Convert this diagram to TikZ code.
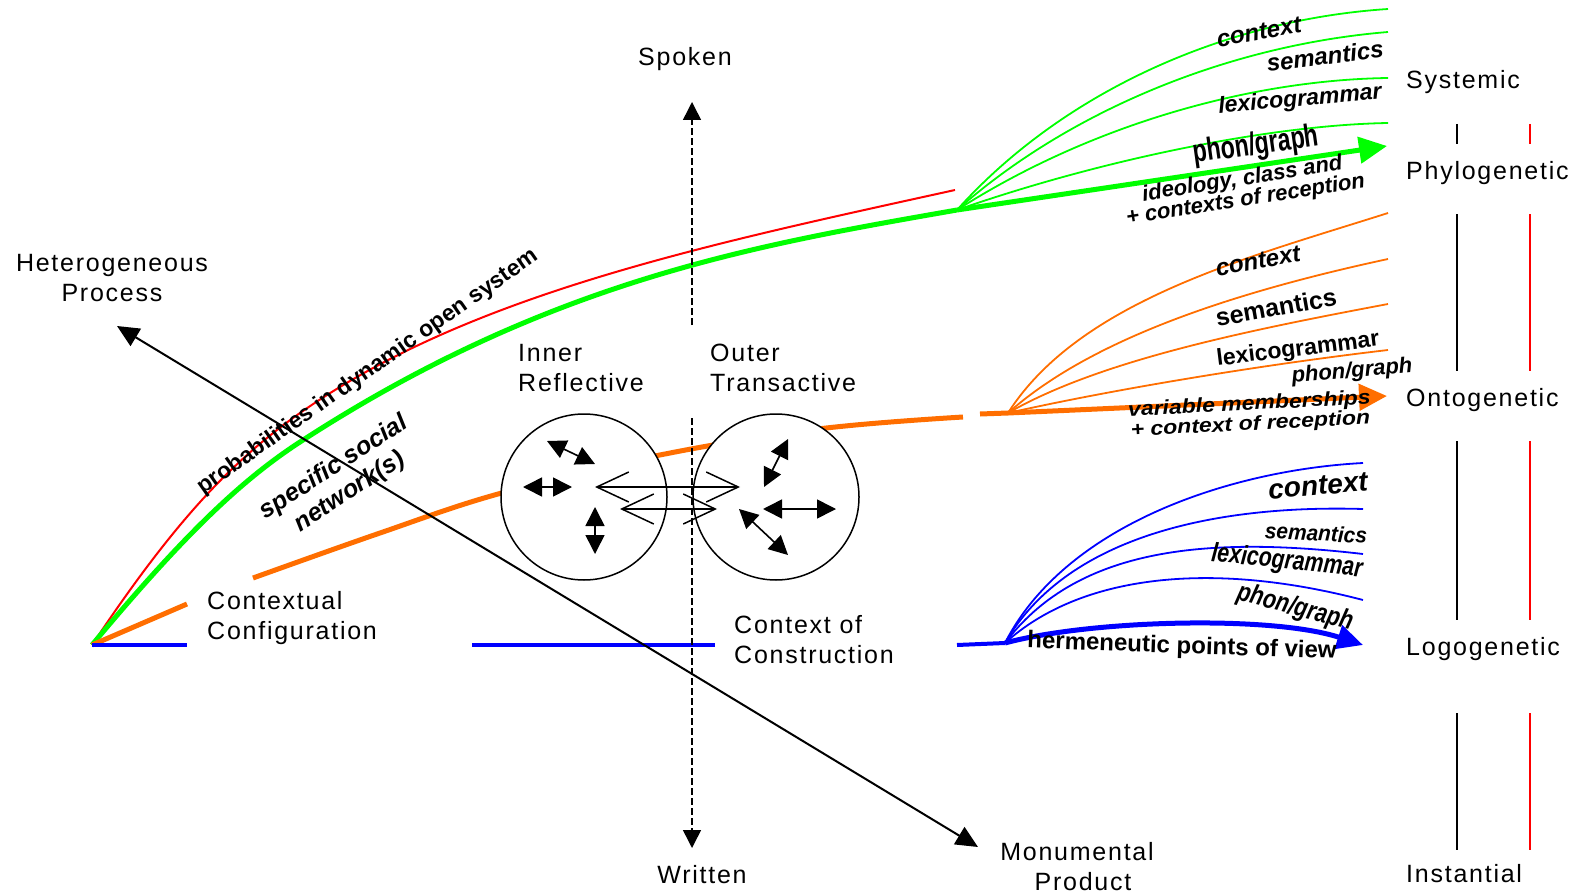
\documentclass[tikz,border=0pt]{standalone}
\usepackage{fontspec}
\setmainfont{Liberation Sans}
\newfontfamily\spc[LetterSpace=7]{Liberation Sans}
\usetikzlibrary{arrows.meta}
\definecolor{gr}{RGB}{0,255,0}
\definecolor{og}{RGB}{255,110,0}
\definecolor{bl}{RGB}{0,0,255}
\definecolor{rd}{RGB}{255,0,0}
\newcommand\myfs[1]{\fontsize{#1}{#1}\selectfont}
\newcommand\labfont{\spc\fontsize{25}{30}\selectfont}
\begin{document}
\begin{tikzpicture}[x=1pt,y=-1pt,
  lab/.style={inner sep=0pt, font=\labfont, align=left},
  labc/.style={inner sep=0pt, font=\labfont, align=center},
  bi/.style={inner sep=0pt, font=\bfseries\itshape\myfs{#1}, align=center},
  bu/.style={inner sep=0pt, font=\bfseries\myfs{#1}, align=center},
  thin fan/.style={line width=1.8pt},
  thick/.style={line width=5pt},
  bigtip/.style={-{Triangle[length=28pt,width=26pt]}},
  blk/.style={line width=2pt, black},
  dsh/.style={line width=1.5pt, dash pattern=on 7pt off 3pt, -{Triangle[length=18pt,width=18pt]}},
  dbl/.style={line width=1.6pt, {Triangle[length=19pt,width=19pt]}-{Triangle[length=19pt,width=19pt]}},
  barb/.style={line width=1.5pt, {Straight Barb[length=32pt,width=30pt]}-{Straight Barb[length=32pt,width=30pt]}},
  rule/.style={line width=2pt}
]
\useasboundingbox (0,0) rectangle (1581,896);

% key points
\coordinate (O) at (92,645);
\coordinate (Fg) at (957,210);
\coordinate (Fo) at (1008,413);
\coordinate (Fb) at (1005,643);
\coordinate (Re) at (955,190);

% red and green main curves
\draw[rd, line width=2pt] (O) .. controls (172,525) and (230,462) .. (300,413)
   .. controls (470,294) and (705,245) .. (Re);
\draw[gr, line width=5pt] (O) .. controls (182,537) and (240,481) .. (300,442)
   .. controls (550,279.5) and (757,245) .. (Fg);

% orange main curve (in pieces)
\draw[og, thick] (O) -- (187,604);
\draw[og, thick] plot[smooth, tension=0.6] coordinates {(253,578) (380,533) (498,494) (655,456) (818,429) (963,417)};
\draw[og, thick] (980,414) -- (Fo);

% blue base line (in pieces)
\draw[bl, line width=4pt] (O) -- (187,645);
\draw[bl, line width=4pt] (472,645) -- (715,645);
\draw[bl, line width=4pt] (957,645) -- (Fb);

% green fan
\draw[gr, thin fan] (Fg) .. controls (1060,95) and (1220,20) .. (1388,9);
\draw[gr, thin fan] (Fg) .. controls (1070,110) and (1230,45) .. (1388,32);
\draw[gr, thin fan] (Fg) .. controls (1090,125) and (1250,80) .. (1388,78);
\draw[gr, thin fan] (Fg) .. controls (1100,160) and (1270,125) .. (1388,123);
\coordinate (Tg) at (1387,146);
\draw[gr, thick, bigtip] (Fg) -- (Tg);

% orange fan
\draw[og, thin fan] (Fo) .. controls (1080,300) and (1250,257) .. (1388,213);
\draw[og, thin fan] (Fo) .. controls (1090,340) and (1230,293) .. (1388,259);
\draw[og, thin fan] (Fo) .. controls (1100,360) and (1250,330) .. (1388,304);
\draw[og, thin fan] (Fo) .. controls (1110,390) and (1260,365) .. (1388,350);
\coordinate (To) at (1387,396);
\draw[og, thick, bigtip] (Fo) -- (To);

% blue fan
\draw[bl, thin fan] (Fb) .. controls (1065,525) and (1230,470) .. (1363,463);
\draw[bl, thin fan] (Fb) .. controls (1070,530) and (1230,505) .. (1363,509);
\draw[bl, thin fan] (Fb) .. controls (1075,550) and (1200,535) .. (1363,554);
\draw[bl, thin fan] (Fb) .. controls (1080,575) and (1210,560) .. (1363,600);
\coordinate (Tb) at (1363,645);
\draw[bl, thick, -{Triangle[length=26pt,width=24pt]}] (Fb) .. controls (1090,620) and (1270,615) .. (Tb);

% circles
\node[circle, draw, fill=white, line width=1.5pt, minimum size=166pt, inner sep=0pt] (inner) at (584,497) {};
\node[circle, draw, fill=white, line width=1.5pt, minimum size=166pt, inner sep=0pt] (outer) at (776,497) {};

% arrows inside circles
\coordinate (a1) at (547,441); \coordinate (a2) at (595,464);
\draw[dbl] (a1) -- (a2);
\coordinate (a3) at (523,487); \coordinate (a4) at (572,487);
\draw[dbl] (a3) -- (a4);
\coordinate (a5) at (595,507); \coordinate (a6) at (595,554);
\draw[dbl] (a5) -- (a6);
\coordinate (b1) at (788,439); \coordinate (b2) at (764,487);
\draw[dbl] (b1) -- (b2);
\coordinate (b3) at (763,509); \coordinate (b4) at (836,509);
\draw[dbl] (b3) -- (b4);
\coordinate (b5) at (739,509); \coordinate (b6) at (788,555);
\draw[dbl] (b5) -- (b6);

% open exchange arrows
\coordinate (e1) at (595,487); \coordinate (e2) at (740,487);
\draw[barb] (e1) -- (e2);
\coordinate (e3) at (620,509); \coordinate (e4) at (717,509);
\draw[barb] (e3) -- (e4);

% dashed spoken/written axis
\coordinate (s0) at (692,325); \coordinate (s1) at (692,102);
\draw[dsh] (s0) -- (s1);
\coordinate (w0) at (692,418); \coordinate (w1) at (692,848);
\draw[dsh] (w0) -- (w1);

% heterogeneous / monumental axis
\coordinate (hp) at (117,326); \coordinate (mp) at (978,847);
\draw[blk, {Triangle[length=22pt,width=20pt]}-{Triangle[length=22pt,width=20pt]}] (hp) -- (mp);

% right-hand vertical rules
\foreach \ya/\yb [count=\i] in {124/144, 214/371, 441/620, 713/850}{
  \coordinate (k\i a) at (1457,\ya); \coordinate (k\i b) at (1457,\yb);
  \draw[rule, black] (k\i a) -- (k\i b);
  \coordinate (r\i a) at (1530,\ya); \coordinate (r\i b) at (1530,\yb);
  \draw[rule, rd] (r\i a) -- (r\i b);
}

% plain labels
\node[labc, anchor=base] (spoken) at (685,66) {Spoken};
\node[labc, anchor=base] (written) at (702,883) {Written};
\node[labc, anchor=north] (hetero) at (112,254) {Heterogeneous\\Process};
\node[lab, anchor=north west] (innerlab) at (518,344) {Inner\\Reflective};
\node[lab, anchor=north west] (outerlab) at (710,344) {Outer\\Transactive};
\node[lab, anchor=north west] (contconf) at (207,591) {Contextual\\Configuration};
\node[lab, anchor=north west] (contcons) at (734,615) {Context of\\Construction};
\node[labc, anchor=north] (monu) at (1077,842) {Monumental\\\hspace*{12pt}Product};
\node[lab, anchor=base west] (systemic) at (1406,89) {Systemic};
\node[lab, anchor=base west] (phylo) at (1406,179) {Phylogenetic};
\node[lab, anchor=base west] (onto) at (1406,406) {Ontogenetic};
\node[lab, anchor=base west] (logo) at (1406,655) {Logogenetic};
\node[lab, anchor=base west] (inst) at (1406,882) {Instantial};

% left italic labels
\node[bu=23, rotate=35] (prob) at (368,372) {probabilities in dynamic open system};
\node[bi=25, rotate=33, font=\bfseries\itshape\fontsize{25}{29}\selectfont] (ssn) at (342,480) {specific social\\network(s)};

% green fan labels
\node[bi=24, rotate=10] (gctx) at (1259,32) {context};
\node[bi=24, rotate=7] (gsem) at (1325,56) {semantics};
\node[bi=23, rotate=5] (glex) at (1300,100) {lexicogrammar};
\node[inner sep=0pt, font=\bfseries\myfs{32}, rotate=8, xscale=0.72] (gph) at (1256,146) {phon/graph};
\node[inner sep=0pt, rotate=9, font=\bfseries\itshape\fontsize{22}{21}\selectfont, align=center] (gide) at (1244,190) {ideology, class and\\+ contexts of reception};

% orange fan labels
\node[bi=24, rotate=10] (octx) at (1258,261) {context};
\node[bu=25, rotate=10] (osem) at (1276,307) {semantics};
\node[bu=23, rotate=7] (olex) at (1298,350) {lexicogrammar};
\node[bi=22, rotate=5] (oph) at (1352,372) {phon/graph};
\node[inner sep=0pt, rotate=3, xscale=1.15, font=\bfseries\itshape\fontsize{20}{20}\selectfont, align=center] (ovar) at (1250,415) {variable memberships\\+ context of reception};

% blue fan labels
\node[bi=28, rotate=5] (bctx) at (1318,486) {context};
\node[bi=22, rotate=-3, xscale=0.95] (bsem) at (1316,533) {semantics};
\node[bi=27, rotate=-6, xscale=0.79] (blex) at (1287,562) {lexicogrammar};
\node[bi=27, rotate=-15, xscale=0.8] (bph) at (1295,608) {phon/graph};
\node[bu=24, rotate=-2] (bherm) at (1182,647) {hermeneutic points of view};
\end{tikzpicture}
\end{document}
